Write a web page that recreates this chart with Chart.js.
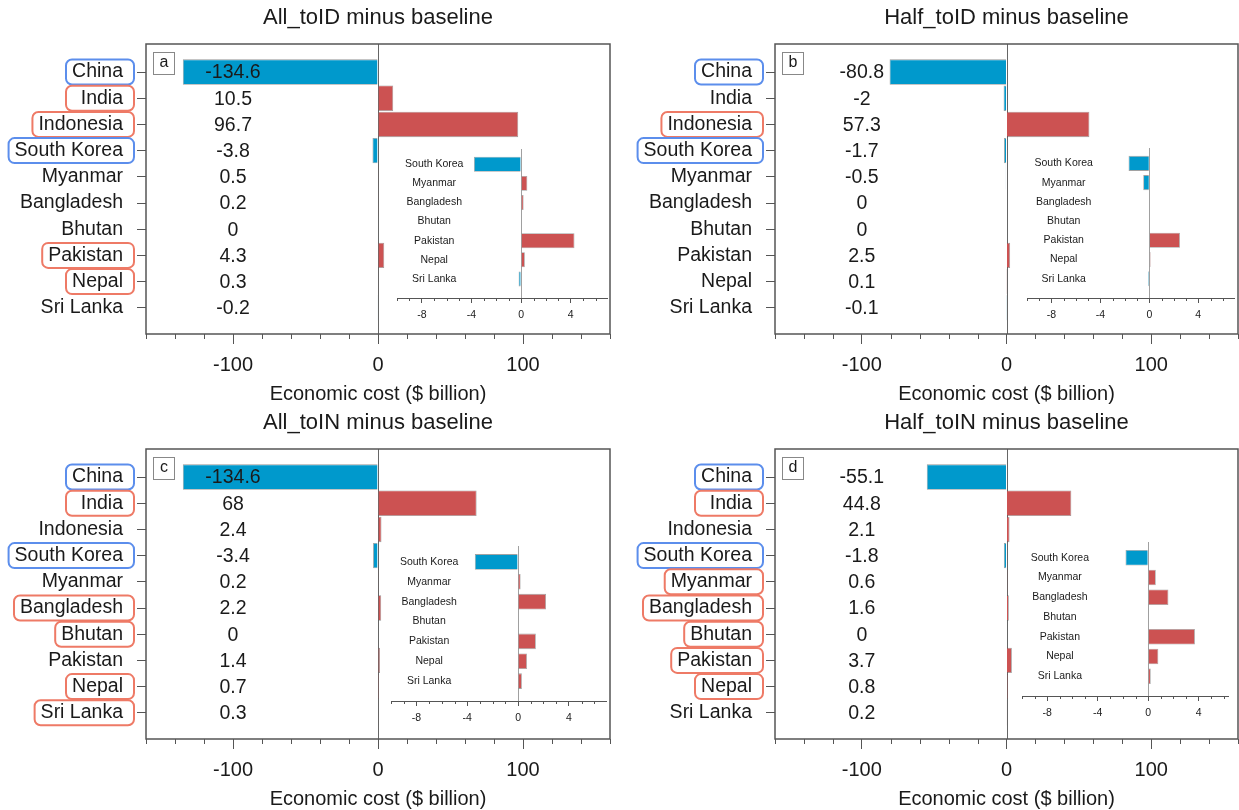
<!DOCTYPE html>
<html>
<head>
<meta charset="utf-8">
<script src="https://cdn.jsdelivr.net/npm/chart.js@4.4.1/dist/chart.umd.min.js"></script>
<style>
  html, body { margin: 0; padding: 0; background: #fff; overflow: hidden; }
  #wrap { position: relative; width: 1239px; height: 810px; }
  #wrap canvas { position: absolute; }
</style>
</head>
<body>
<div id="wrap"></div>
<script>
// ---- data ----
const countries = ['China', 'India', 'Indonesia', 'South Korea', 'Myanmar', 'Bangladesh', 'Bhutan', 'Pakistan', 'Nepal', 'Sri Lanka'];
const insetFrom = 3; // inset zooms in on South Korea .. Sri Lanka

const allToID  = [-134.6, 10.5, 96.7, -3.8, 0.5, 0.2, 0, 4.3, 0.3, -0.2];
const halfToID = [-80.8, -2, 57.3, -1.7, -0.5, 0, 0, 2.5, 0.1, -0.1];
const allToIN  = [-134.6, 68, 2.4, -3.4, 0.2, 2.2, 0, 1.4, 0.7, 0.3];
const halfToIN = [-55.1, 44.8, 2.1, -1.8, 0.6, 1.6, 0, 3.7, 0.8, 0.2];

// outlined country names: 'b' = loss (blue frame), 'r' = gain (red frame), '' = none
const markAllToID  = ['b', 'r', 'r', 'b', '', '', '', 'r', 'r', ''];
const markHalfToID = ['b', '', 'r', 'b', '', '', '', '', '', ''];
const markAllToIN  = ['b', 'r', '', 'b', '', 'r', 'r', '', 'r', 'r'];
const markHalfToIN = ['b', 'r', '', 'b', 'r', 'r', 'r', 'r', 'r', ''];

const panelTitles = ['All_toID minus baseline', 'Half_toID minus baseline', 'All_toIN minus baseline', 'Half_toIN minus baseline'];
const panelLetters = ['a', 'b', 'c', 'd'];
const mainTicks = [-100, 0, 100];
const insetTicks = [-8, -4, 0, 4];
const xTitle = 'Economic cost ($ billion)';

// ---- style ----
const FONT = "'Liberation Sans', Arial, Helvetica, sans-serif";
const BLUE = 'rgb(0,153,204)';
const RED = 'rgb(204,82,82)';
const BOX_BLUE = 'rgb(92,142,236)';
const BOX_RED = 'rgb(238,122,102)';
const AXIS = '#555';
const TEXT = '#1a1a1a';

const wrap = document.getElementById('wrap');
function makeCanvas(left, top, w, h) {
  const c = document.createElement('canvas');
  c.width = w; c.height = h;
  c.style.left = left + 'px'; c.style.top = top + 'px';
  c.style.width = w + 'px'; c.style.height = h + 'px';
  wrap.appendChild(c);
  return c;
}
const barColor = v => (v < 0 ? BLUE : RED);

function roundRect(ctx, x, y, w, h, r) {
  ctx.beginPath();
  ctx.moveTo(x + r, y);
  ctx.lineTo(x + w - r, y);
  ctx.arcTo(x + w, y, x + w, y + r, r);
  ctx.lineTo(x + w, y + h - r);
  ctx.arcTo(x + w, y + h, x + w - r, y + h, r);
  ctx.lineTo(x + r, y + h);
  ctx.arcTo(x, y + h, x, y + h - r, r);
  ctx.lineTo(x, y + r);
  ctx.arcTo(x, y, x + r, y, r);
  ctx.closePath();
}

// ---- main panel ----
function mainPanel(p) {
  const cv = makeCanvas(p.left, p.top, p.w, p.h);
  const LABEL_SIZE = 19.5;
  const Y_TICK = 9, Y_PAD = 14;

  const decor = {
    id: 'decor',
    beforeDatasetsDraw(chart) {
      const { ctx, chartArea: a, scales: { x } } = chart;
      ctx.save();
      ctx.strokeStyle = '#666';
      ctx.lineWidth = 1;
      const x0 = Math.round(x.getPixelForValue(0)) + 0.5;
      ctx.beginPath(); ctx.moveTo(x0, a.top); ctx.lineTo(x0, a.bottom); ctx.stroke();
      ctx.restore();
    },
    afterDraw(chart) {
      const { ctx, chartArea: a, scales: { x, y } } = chart;
      ctx.save();
      // frame
      ctx.strokeStyle = AXIS; ctx.lineWidth = 1.5;
      ctx.strokeRect(a.left, a.top, a.right - a.left, a.bottom - a.top);
      // minor ticks every 20
      ctx.lineWidth = 1;
      for (let v = -160; v <= 160; v += 20) {
        if (mainTicks.includes(v)) continue;
        const px = Math.round(x.getPixelForValue(v)) + 0.5;
        ctx.beginPath(); ctx.moveTo(px, a.bottom); ctx.lineTo(px, a.bottom + 5); ctx.stroke();
      }
      // value column
      ctx.fillStyle = TEXT;
      ctx.font = `${LABEL_SIZE}px ${FONT}`;
      ctx.textAlign = 'center'; ctx.textBaseline = 'middle';
      const vx = x.getPixelForValue(-100);
      p.values.forEach((v, i) => ctx.fillText(String(v), vx, y.getPixelForValue(i) + 1));
      // outlined country names
      const right = a.left - Y_TICK - Y_PAD;
      ctx.lineWidth = 2;
      p.marks.forEach((m, i) => {
        if (!m) return;
        const tw = ctx.measureText(countries[i]).width;
        const bw = Math.max(tw + 17, 68);
        const cy = y.getPixelForValue(i);
        ctx.strokeStyle = m === 'b' ? BOX_BLUE : BOX_RED;
        roundRect(ctx, right + 11 - bw, cy - 12.5, bw, 25, 6);
        ctx.stroke();
      });
      // panel letter
      ctx.lineWidth = 1; ctx.strokeStyle = '#888';
      ctx.fillStyle = '#fff';
      ctx.fillRect(a.left + 7.5, a.top + 8.5, 21, 22);
      ctx.strokeRect(a.left + 7.5, a.top + 8.5, 21, 22);
      ctx.fillStyle = TEXT; ctx.font = `16px ${FONT}`;
      ctx.fillText(p.letter, a.left + 18, a.top + 19);
      // title
      ctx.font = `22px ${FONT}`;
      ctx.fillText(p.title, (a.left + a.right) / 2, 18);
      ctx.restore();
    }
  };

  new Chart(cv, {
    type: 'bar',
    data: {
      datasets: [{
        data: p.values.map((v, i) => ({ x: v, y: i })),
        backgroundColor: p.values.map(barColor),
        borderColor: 'rgba(70,70,70,0.55)',
        borderWidth: 0.8,
        barPercentage: 0.97,
        categoryPercentage: 1
      }]
    },
    options: {
      indexAxis: 'y',
      responsive: false,
      animation: false,
      devicePixelRatio: 1,
      layout: { padding: { top: 44, right: p.padRight, bottom: 0, left: 0 } },
      plugins: { legend: { display: false }, tooltip: { enabled: false }, title: { display: false } },
      scales: {
        x: {
          type: 'linear', position: 'bottom', min: -160, max: 160,
          afterBuildTicks: s => { s.ticks = mainTicks.map(v => ({ value: v })); },
          afterFit: s => { s.height = p.h - 334; },
          grid: { drawOnChartArea: false, drawTicks: true, tickLength: 10, color: AXIS, lineWidth: 1 },
          border: { display: false },
          ticks: { font: { family: FONT, size: 20 }, color: TEXT, padding: 9, maxRotation: 0, autoSkip: false },
          title: { display: true, text: xTitle, color: TEXT, font: { family: FONT, size: 20, lineHeight: 1.1 }, padding: 0 }
        },
        y: {
          type: 'linear', min: -1.07, max: 10, reverse: true, offset: false,
          afterBuildTicks: s => { s.ticks = countries.map((_, i) => ({ value: i })); },
          afterFit: s => { s.width = 146; },
          grid: { offset: false, drawOnChartArea: false, drawTicks: true, tickLength: Y_TICK, color: AXIS, lineWidth: 1 },
          border: { display: false },
          ticks: { callback: v => countries[v], font: { family: FONT, size: LABEL_SIZE }, color: TEXT, padding: Y_PAD, autoSkip: false }
        }
      }
    },
    plugins: [decor]
  });
}

// ---- inset (small countries) ----
function insetPanel(q) {
  const AX_H = 30;
  const cv = makeCanvas(q.left, q.top, q.w, q.plotH + AX_H);
  const vals = q.values.slice(insetFrom);
  const names = countries.slice(insetFrom);

  const decor = {
    id: 'insetDecor',
    beforeDatasetsDraw(chart) {
      const { ctx, chartArea: a, scales: { x } } = chart;
      ctx.save();
      ctx.strokeStyle = '#a0a0a0'; ctx.lineWidth = 1;
      const x0 = Math.round(x.getPixelForValue(0)) + 0.5;
      ctx.beginPath(); ctx.moveTo(x0, a.top); ctx.lineTo(x0, a.bottom); ctx.stroke();
      ctx.restore();
    },
    afterDraw(chart) {
      const { ctx, chartArea: a, scales: { x, y } } = chart;
      ctx.save();
      ctx.strokeStyle = AXIS; ctx.lineWidth = 1;
      for (let v = -10; v <= q.xmax; v += 1) {
        if (insetTicks.includes(v)) continue;
        const px = Math.round(x.getPixelForValue(v)) + 0.5;
        ctx.beginPath(); ctx.moveTo(px, a.bottom); ctx.lineTo(px, a.bottom + 3); ctx.stroke();
      }
      ctx.fillStyle = TEXT;
      ctx.font = `10.5px ${FONT}`;
      ctx.textAlign = 'center'; ctx.textBaseline = 'middle';
      const lx = x.getPixelForValue(-7);
      names.forEach((n, i) => ctx.fillText(n, lx, y.getPixelForValue(i)));
      ctx.restore();
    }
  };

  new Chart(cv, {
    type: 'bar',
    data: {
      datasets: [{
        data: vals.map((v, i) => ({ x: v, y: i })),
        backgroundColor: vals.map(barColor),
        borderColor: 'rgba(70,70,70,0.5)',
        borderWidth: 0.8,
        barPercentage: 0.98,
        categoryPercentage: 1
      }]
    },
    options: {
      indexAxis: 'y',
      responsive: false,
      animation: false,
      devicePixelRatio: 1,
      layout: { padding: 0 },
      plugins: { legend: { display: false }, tooltip: { enabled: false } },
      scales: {
        x: {
          type: 'linear', position: 'bottom', min: -10, max: q.xmax,
          afterBuildTicks: s => { s.ticks = insetTicks.map(v => ({ value: v })); },
          afterFit: s => { s.height = AX_H; },
          grid: { drawOnChartArea: false, drawTicks: true, tickLength: 5, color: AXIS, lineWidth: 1 },
          border: { display: true, color: AXIS, width: 1 },
          ticks: { font: { family: FONT, size: 10.5 }, color: TEXT, padding: 6, maxRotation: 0, autoSkip: false }
        },
        y: { type: 'linear', display: false, min: -0.8, max: 7, reverse: true, offset: false, grid: { offset: false } }
      }
    },
    plugins: [decor]
  });
}

const panels = [
  { left: 0,   top: 0,   w: 620, h: 405, padRight: 10, values: allToID,  marks: markAllToID,  title: panelTitles[0], letter: panelLetters[0] },
  { left: 629, top: 0,   w: 610, h: 405, padRight: 1,  values: halfToID, marks: markHalfToID, title: panelTitles[1], letter: panelLetters[1] },
  { left: 0,   top: 405, w: 620, h: 405, padRight: 10, values: allToIN,  marks: markAllToIN,  title: panelTitles[2], letter: panelLetters[2] },
  { left: 629, top: 405, w: 610, h: 405, padRight: 1,  values: halfToIN, marks: markHalfToIN, title: panelTitles[3], letter: panelLetters[3] }
];
panels.forEach(mainPanel);

const insets = [
  { left: 397,  top: 149, w: 211, plotH: 149, xmax: 7,   values: allToID },
  { left: 1027, top: 148, w: 208, plotH: 150, xmax: 7,   values: halfToID },
  { left: 391,  top: 546, w: 216, plotH: 155, xmax: 7,   values: allToIN },
  { left: 1022, top: 542, w: 207, plotH: 154, xmax: 6.4, values: halfToIN }
];
insets.forEach(insetPanel);
</script>
</body>
</html>
